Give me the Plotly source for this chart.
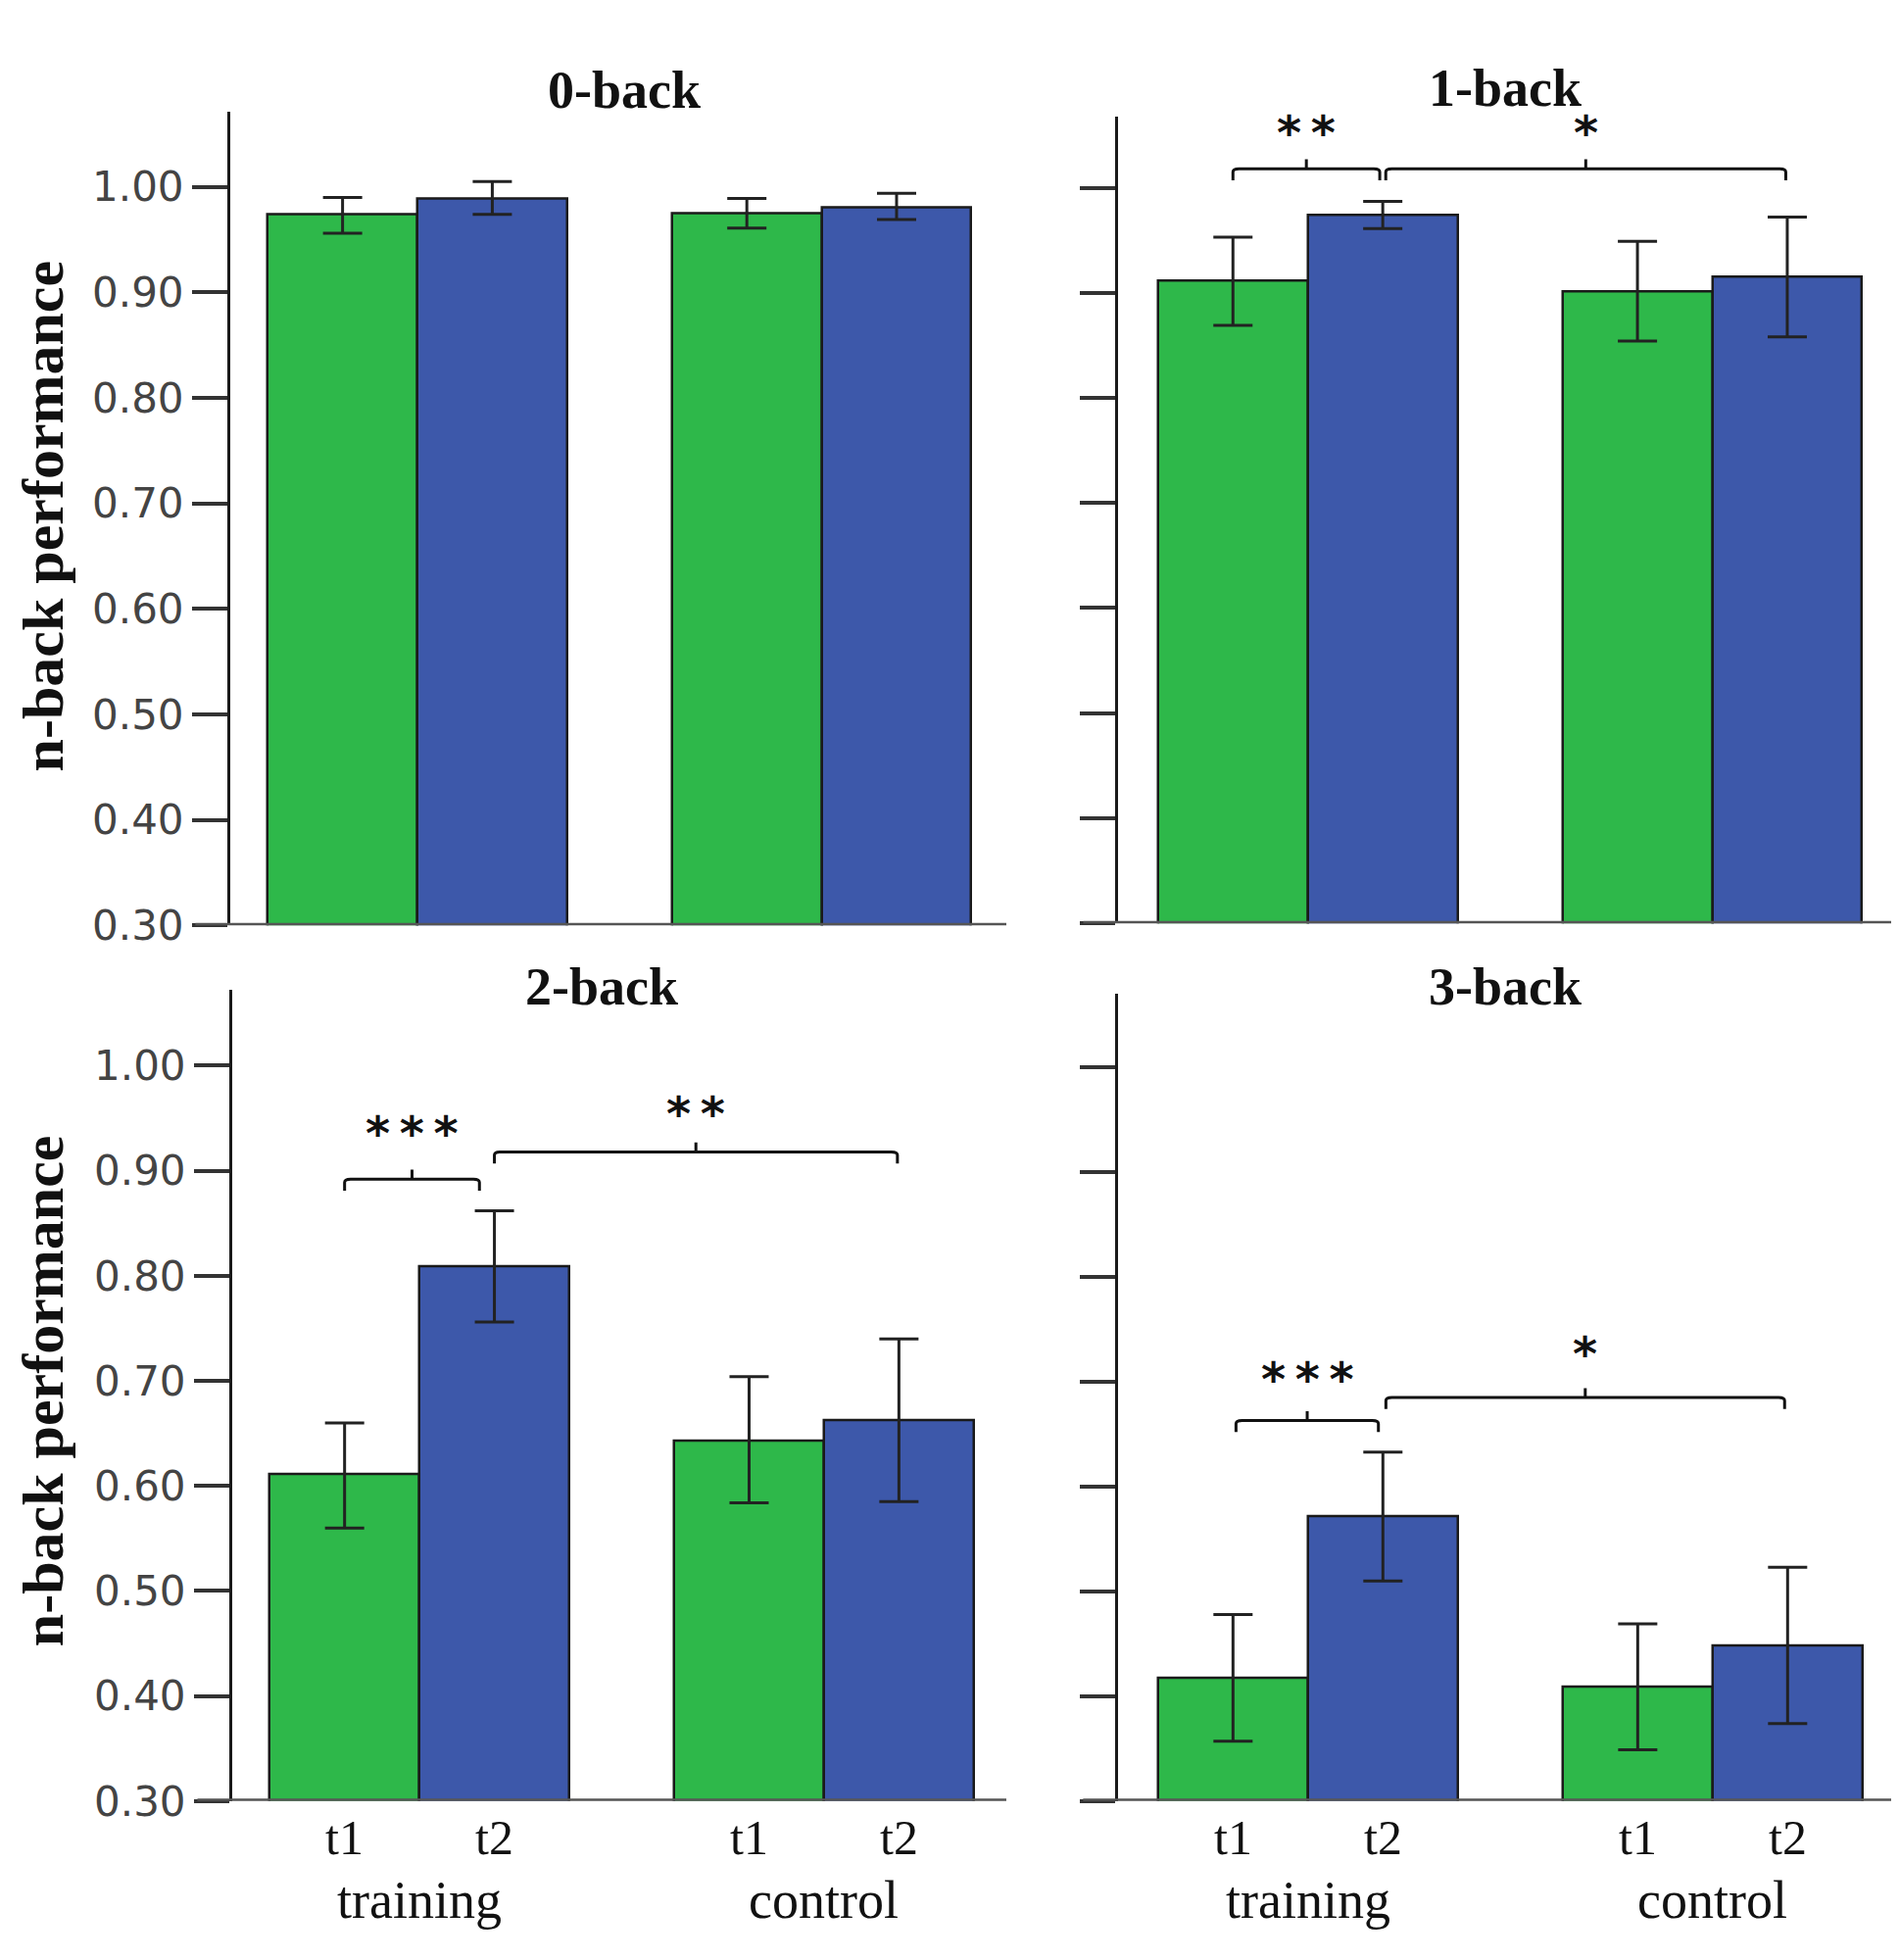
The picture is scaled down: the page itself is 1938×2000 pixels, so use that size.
import plotly.graph_objects as go

# bar positions (training t1, t2, control t1, t2)
bar_x = [0, 1, 2.7, 3.7]
tick_labels = ["t1", "t2", "t1", "t2"]
group_labels = ["training", "control"]
panel_titles = ["0-back", "1-back", "2-back", "3-back"]
y_ticks = [0.30, 0.40, 0.50, 0.60, 0.70, 0.80, 0.90, 1.00]

# means and error bar ends
mean_0back = [0.974, 0.989, 0.975, 0.981]
upper_0back = [0.990, 1.005, 0.989, 0.994]
lower_0back = [0.956, 0.974, 0.961, 0.969]

mean_1back = [0.911, 0.974, 0.901, 0.915]
upper_1back = [0.953, 0.987, 0.949, 0.972]
lower_1back = [0.869, 0.961, 0.854, 0.858]

mean_2back = [0.611, 0.809, 0.643, 0.662]
upper_2back = [0.660, 0.862, 0.704, 0.740]
lower_2back = [0.560, 0.756, 0.584, 0.585]

mean_3back = [0.417, 0.572, 0.409, 0.448]
upper_3back = [0.478, 0.633, 0.469, 0.523]
lower_3back = [0.357, 0.510, 0.349, 0.374]

# significance brackets: (x0, x1, y, stars, star_y)
sig_1back = [(0.0, 0.98, 1.018, "**", 1.053), (1.02, 3.69, 1.018, "*", 1.053)]
sig_2back = [(0.0, 0.9, 0.892, "***", 0.936), (1.0, 3.69, 0.918, "**", 0.955)]
sig_3back = [(0.02, 0.97, 0.663, "***", 0.703), (1.02, 3.68, 0.685, "*", 0.727)]

GREEN = "#2eb84a"
BLUE = "#3d58aa"
SERIF = "Liberation Serif"

panels = [
    dict(mean=mean_0back, up=upper_0back, lo=lower_0back, sig=[], labels=True,
         xd=[227 / 1938, 1019 / 1938], yd=[0.526, 0.9465], xr=[-0.75, 4.433], yr=[0.30, 1.0716],
         bottom=False, title_xy=(629, 85)),
    dict(mean=mean_1back, up=upper_1back, lo=lower_1back, sig=sig_1back, labels=False,
         xd=[1133 / 1938, 1923 / 1938], yd=[0.527, 0.944], xr=[-0.767, 4.40], yr=[0.30, 1.068],
         bottom=False, title_xy=(1528, 83)),
    dict(mean=mean_2back, up=upper_2back, lo=lower_2back, sig=sig_2back, labels=True,
         xd=[229 / 1938, 1019 / 1938], yd=[0.0735, 0.4925], xr=[-0.75, 4.417], yr=[0.30, 1.072],
         bottom=True, title_xy=(606, 1012)),
    dict(mean=mean_3back, up=upper_3back, lo=lower_3back, sig=sig_3back, labels=False,
         xd=[1133 / 1938, 1926 / 1938], yd=[0.0735, 0.4905], xr=[-0.767, 4.417], yr=[0.30, 1.070],
         bottom=True, title_xy=(1528, 1012)),
]

fig = go.Figure()
layout = {}
shapes = []
annotations = []

for i, p in enumerate(panels):
    n = "" if i == 0 else str(i + 1)
    xa, ya = "x" + n, "y" + n
    fig.add_trace(go.Bar(
        x=bar_x, y=p["mean"], width=1, xaxis=xa, yaxis=ya,
        marker=dict(color=[GREEN, BLUE, GREEN, BLUE], line=dict(color="#1a1a1a", width=2.5)),
        error_y=dict(type="data", symmetric=False,
                     array=[u - m for u, m in zip(p["up"], p["mean"])],
                     arrayminus=[m - l for m, l in zip(p["mean"], p["lo"])],
                     color="#222222", thickness=3, width=20),
        showlegend=False, hoverinfo="skip",
    ))
    layout["xaxis" + n] = dict(domain=p["xd"], range=p["xr"], anchor=ya, showline=False,
                               showgrid=False, zeroline=False, showticklabels=False, ticks="")
    layout["yaxis" + n] = dict(domain=p["yd"], range=p["yr"], anchor=xa, showline=True,
                               linecolor="#1a1a1a", linewidth=3, showgrid=False, zeroline=False,
                               ticks="outside", ticklen=36, tickwidth=4, tickcolor="#333333",
                               tickvals=y_ticks, ticktext=[f"{v:.2f}" for v in y_ticks],
                               showticklabels=p["labels"],
                               tickfont=dict(family="DejaVu Sans", size=42, color="#444444"))
    # x axis baseline, extended left past the y axis
    shapes.append(dict(type="line", xref=xa + " domain", yref=ya, x0=-0.045, x1=1.0,
                       y0=0.30, y1=0.30, line=dict(color="#555555", width=5)))
    # significance brackets with slightly rounded ends
    for x0, x1, yb, stars, sy in p["sig"]:
        xm = (x0 + x1) / 2
        dx = 0.04
        path = (f"M {x0},{yb - 0.011} L {x0},{yb - 0.003} Q {x0},{yb} {x0 + dx},{yb} "
                f"L {x1 - dx},{yb} Q {x1},{yb} {x1},{yb - 0.003} L {x1},{yb - 0.011} "
                f"M {xm},{yb} L {xm},{yb + 0.009}")
        shapes.append(dict(type="path", xref=xa, yref=ya, path=path,
                           line=dict(color="#111111", width=3)))
        annotations.append(dict(xref=xa, yref=ya, x=xm, y=sy, text="\u2009".join(stars),
                                showarrow=False,
                                font=dict(family="DejaVu Sans", size=48, color="#111111",
                                          weight="bold"),
                                xanchor="center", yanchor="middle"))
    # panel title
    tx, ty = p["title_xy"]
    annotations.append(dict(xref="paper", yref="paper", x=tx / 1938, y=1 - ty / 2000,
                            text=panel_titles[i], showarrow=False, xanchor="center",
                            yanchor="middle",
                            font=dict(family=SERIF, size=54, color="#111111", weight="bold")))
    if p["bottom"]:
        for bx, t in zip(bar_x, tick_labels):
            annotations.append(dict(xref=xa, yref="paper", x=bx, y=1 - 1891 / 2000, text=t,
                                    showarrow=False, xanchor="center", yanchor="middle",
                                    font=dict(family=SERIF, size=50, color="#111111")))
        for gx, g in zip([(bar_x[0] + bar_x[1]) / 2, (bar_x[2] + bar_x[3]) / 2], group_labels):
            annotations.append(dict(xref=xa, yref="paper", x=gx, y=1 - 1955 / 2000, text=g,
                                    showarrow=False, xanchor="center", yanchor="middle",
                                    font=dict(family=SERIF, size=54, color="#111111")))

# y axis titles
for yc in [525, 1429]:
    annotations.append(dict(xref="paper", yref="paper", x=36 / 1938, y=1 - yc / 2000,
                            text="n-back performance", textangle=-90, showarrow=False,
                            xanchor="center", yanchor="middle",
                            font=dict(family=SERIF, size=60, color="#111111", weight="bold")))

fig.update_layout(
    width=1938, height=2000,
    margin=dict(l=0, r=0, t=0, b=0),
    paper_bgcolor="white", plot_bgcolor="white",
    bargap=0, shapes=shapes, annotations=annotations,
    **layout,
)

fig.write_html("out.html")
